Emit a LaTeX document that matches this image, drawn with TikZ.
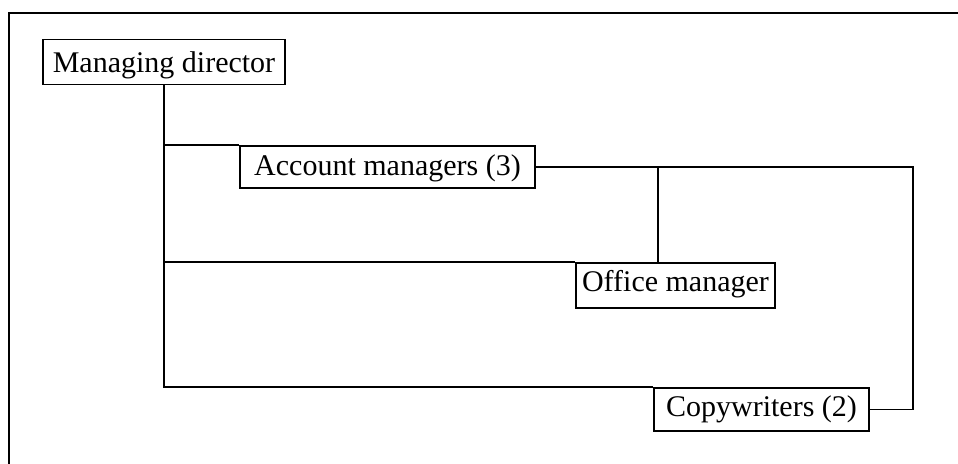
\documentclass[tikz,border=0pt]{standalone}
\usepackage{fontspec}
\setmainfont{Liberation Serif}
\begin{document}
\begin{tikzpicture}[x=0.75pt,y=-0.75pt,
  frameline/.style={line width=1.6pt,black},
  link/.style={line width=1.3pt,black},
  unit/.style={draw,line width=1.3pt,fill=white,inner sep=0pt,
    font=\fontsize{22.5pt}{26pt}\selectfont,text depth=0pt}]
  % page area
  \fill[white] (0,0) rectangle (958,464);
  \useasboundingbox (0,0) rectangle (958,464);
  % frame edges (top and left)
  \draw[frameline] (958,13) -- (9,13) -- (9,464);

  % helper points for the right-hand connectors
  \coordinate (split) at (658,167);
  \coordinate (turn) at (913,167);

  % units
  \node[unit,minimum width=242*0.75pt,minimum height=45*0.75pt,text height=15pt] (md) at (164,62) {Managing director};
  \node[unit,minimum width=295*0.75pt,minimum height=42*0.75pt,text height=12pt] (am) at (387.5,167) {Account managers (3)};
  \node[unit,minimum width=199*0.75pt,minimum height=45*0.75pt,text height=8.5pt] (om) at (675.5,285.5) {Office manager};
  \node[unit,minimum width=215*0.75pt,minimum height=43*0.75pt,text height=11.2pt] (cw) at (761.5,409.5) {Copywriters (2)};

  % reporting lines
  \draw[link] (md.south) |- (cw.north west);
  \draw[link] (md.south) |- (am.north west);
  \draw[link] (md.south) |- (om.north west);
  \draw[link] (am.east) -- (turn) |- (cw.east);
  \draw[link] (split) -- (split |- om.north);
\end{tikzpicture}
\end{document}
